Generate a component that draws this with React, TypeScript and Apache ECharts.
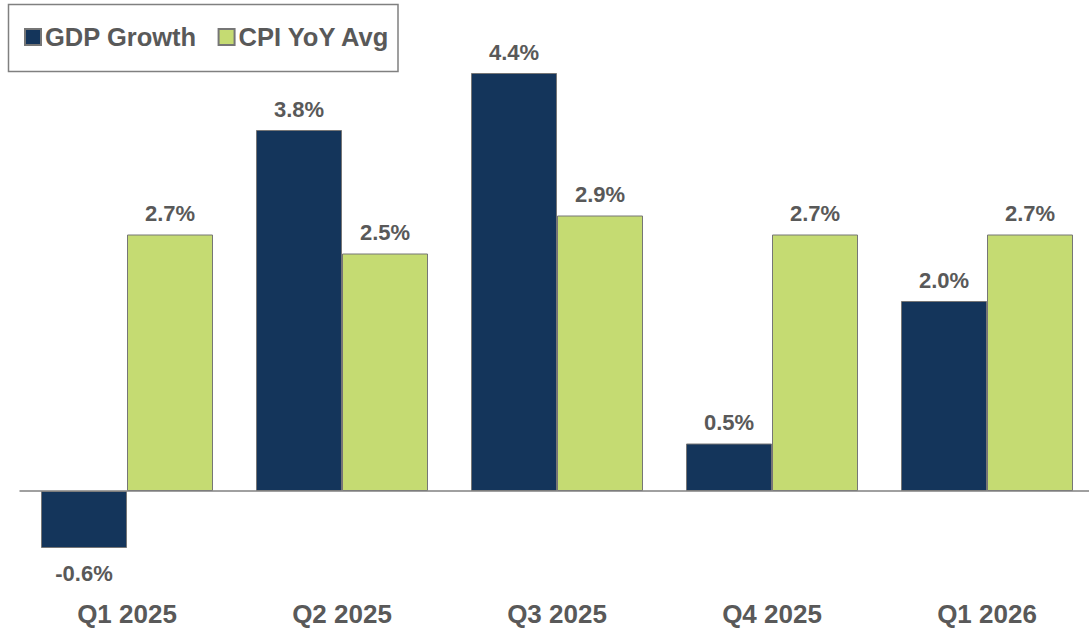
import React, { useEffect, useRef } from "react";
import * as echarts from "echarts";

const categories = ["Q1 2025", "Q2 2025", "Q3 2025", "Q4 2025", "Q1 2026"];
const gdpGrowth = [-0.6, 3.8, 4.4, 0.5, 2.0];
const cpiYoY = [2.7, 2.5, 2.9, 2.7, 2.7];

const FONT = '"Liberation Sans", Arial, Helvetica, sans-serif';
const TEXT = "#595959";
const NAVY = "#14355B";
const GREEN = "#C5DB72";
const BORDER = "#767676";

function labelFor(v: number) {
  return {
    value: v,
    label: v < 0 ? { position: "bottom", distance: 14 } : { position: "top", distance: 10 },
  };
}

export default function App() {
  const ref = useRef<HTMLDivElement>(null);
  useEffect(() => {
    if (!ref.current) return;
    const chart = echarts.init(ref.current, null, { renderer: "svg" });
    const labelStyle = {
      show: true,
      fontFamily: FONT,
      fontSize: 22,
      fontWeight: "bold",
      color: TEXT,
      formatter: (p: any) => p.value.toFixed(1) + "%",
    };
    chart.setOption({
      animation: false,
      backgroundColor: "#ffffff",
      textStyle: { fontFamily: FONT },
      grid: { left: 19.5, top: 16, width: 1075, height: 570 },
      legend: {
        left: 19,
        top: 19,
        itemWidth: 16,
        itemHeight: 16,
        itemGap: 21,
        icon: "rect",
        textStyle: { fontFamily: FONT, fontSize: 25.5, fontWeight: "bold", color: TEXT, padding: [0, 0, 0, -1] },
        data: ["GDP Growth", "CPI YoY Avg"],
      },
      graphic: [
        {
          type: "rect",
          shape: { x: 8.5, y: 4.5, width: 389.5, height: 67 },
          style: { fill: "none", stroke: "#808080", lineWidth: 1.5 },
          silent: true,
        },
      ],
      xAxis: {
        type: "category",
        data: categories,
        axisLine: { show: false, onZero: false },
        axisTick: { show: false },
        axisLabel: { fontFamily: FONT, fontSize: 26, fontWeight: "bold", color: TEXT, margin: 15 },
        splitLine: { show: false },
      },
      yAxis: {
        type: "value",
        min: -1,
        max: 5,
        show: false,
        splitLine: { show: false },
      },
      series: [
        {
          name: "GDP Growth",
          type: "bar",
          barWidth: 86,
          barGap: "0%",
          data: gdpGrowth.map(labelFor),
          itemStyle: { color: NAVY, borderColor: BORDER, borderWidth: 1 },
          label: labelStyle,
          markLine: {
            silent: true,
            symbol: "none",
            label: { show: false },
            lineStyle: { color: "#808080", width: 1.5, type: "solid" },
            data: [{ yAxis: 0 }],
          },
        },
        {
          name: "CPI YoY Avg",
          type: "bar",
          barWidth: 86,
          barGap: "0%",
          data: cpiYoY.map(labelFor),
          itemStyle: { color: GREEN, borderColor: BORDER, borderWidth: 1 },
          label: labelStyle,
        },
      ],
    });
    return () => chart.dispose();
  }, []);
  return (
    <div
      style={{
        position: "fixed",
        left: 0,
        top: 0,
        width: 1089,
        height: 630,
        overflow: "hidden",
        background: "#fff",
      }}
    >
      <div ref={ref} style={{ width: 1095, height: 630 }} />
    </div>
  );
}
